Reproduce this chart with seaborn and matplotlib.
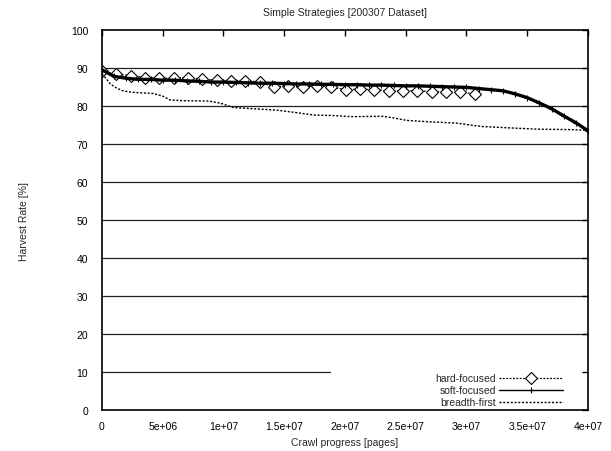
import matplotlib
matplotlib.use("Agg")
import matplotlib.pyplot as plt
import pandas as pd
import seaborn as sns

# crawl progress in pages
hard_x = [0, 1.18e6, 2.36e6, 3.54e6, 4.72e6, 5.9e6, 7.08e6, 8.26e6, 9.44e6, 1.062e7,
          1.18e7, 1.298e7, 1.416e7, 1.534e7, 1.652e7, 1.77e7, 1.888e7, 2.006e7, 2.124e7,
          2.242e7, 2.36e7, 2.478e7, 2.596e7, 2.714e7, 2.832e7, 2.95e7, 3.068e7]
hard_y = [89.2, 88.4, 88.0, 87.5, 87.3, 87.3, 87.5, 87.0, 86.8, 86.7,
          86.7, 86.3, 85.0, 85.3, 85.0, 85.3, 85.0, 84.3, 84.4,
          84.3, 84.0, 84.0, 84.0, 83.8, 83.6, 83.6, 83.2]

soft_x = [i * 1e6 for i in range(41)]
soft_y = [89.5, 87.8, 87.3, 87.0, 87.0, 86.8, 86.8, 86.6, 86.5, 86.3,
          86.3, 86.2, 86.1, 86.0, 86.0, 85.9, 85.8, 85.8, 85.7, 85.7,
          85.6, 85.6, 85.5, 85.5, 85.4, 85.3, 85.3, 85.2, 85.1, 85.0,
          84.9, 84.6, 84.3, 84.0, 83.2, 82.2, 80.8, 79.3, 77.4, 75.6, 73.5]

breadth_x = [0, 3.9e5, 6.9e5, 1.1e6, 1.7e6, 2.5e6, 4.2e6, 5.0e6, 5.6e6, 6.7e6,
             8.8e6, 9.8e6, 1.08e7, 1.29e7, 1.44e7, 1.59e7, 1.75e7, 1.9e7, 2.05e7,
             2.31e7, 2.41e7, 2.51e7, 2.72e7, 2.92e7, 3.03e7, 3.13e7, 3.38e7,
             3.59e7, 3.84e7, 4.0e7]
breadth_y = [88.5, 87.0, 85.8, 84.9, 84.0, 83.6, 83.3, 82.6, 81.6, 81.4,
             81.3, 80.7, 79.6, 79.2, 78.9, 78.3, 77.6, 77.5, 77.2,
             77.3, 76.8, 76.2, 75.8, 75.5, 75.0, 74.6, 74.2,
             73.9, 73.8, 73.6]

x_ticks = [0, 5e6, 1e7, 1.5e7, 2e7, 2.5e7, 3e7, 3.5e7, 4e7]
x_tick_labels = ['0', '5e+06', '1e+07', '1.5e+07', '2e+07', '2.5e+07', '3e+07', '3.5e+07', '4e+07']
y_ticks = list(range(0, 101, 10))

hard = pd.DataFrame({'x': hard_x, 'y': hard_y})
soft = pd.DataFrame({'x': soft_x, 'y': soft_y})
breadth = pd.DataFrame({'x': breadth_x, 'y': breadth_y})

sns.set_theme(style='white')
plt.rcParams['font.family'] = ['Liberation Sans', 'DejaVu Sans']
plt.rcParams['font.size'] = 7.5

fig = plt.figure(figsize=(6.11, 4.52), dpi=100)
ax = fig.add_axes([0.1669, 0.0907, 0.7954, 0.8407])

# horizontal grid, the lowest one is cut by the key box
for y in y_ticks[1:-1]:
    ax.axhline(y, xmax=0.47 if y == 10 else 1, color='#222222', lw=0.9, zorder=0.5)

sns.lineplot(data=hard, x='x', y='y', ax=ax, color='black', lw=0.9,
             linestyle=(0, (1.5, 1.2)), marker='D', markersize=6.5,
             markerfacecolor='white', markeredgecolor='black', markeredgewidth=0.8,
             label='hard-focused')
sns.lineplot(data=soft, x='x', y='y', ax=ax, color='black', lw=2.4,
             marker='+', markersize=5, markeredgecolor='black', markeredgewidth=0.8,
             label='soft-focused')
sns.lineplot(data=breadth, x='x', y='y', ax=ax, color='black', lw=1.0,
             linestyle=(0, (1.5, 1.2)), label='breadth-first')

ax.set_xlim(0, 4e7)
ax.set_ylim(0, 100)
ax.set_xticks(x_ticks)
ax.set_xticklabels(x_tick_labels)
ax.set_yticks(y_ticks)
ax.tick_params(direction='in', length=4, width=1, top=True, right=True,
               labelsize=7.5, colors='black')
ax.tick_params(axis='x', pad=8)
ax.tick_params(axis='y', pad=10)
for s in ax.spines.values():
    s.set_color('black')
    s.set_linewidth(1.2)

ax.set_title('Simple Strategies [200307 Dataset]', fontsize=7.5, pad=11)
ax.set_xlabel('Crawl progress [pages]', fontsize=7.5)
ax.set_ylabel('Harvest Rate [%]', fontsize=7.5)
ax.xaxis.set_label_coords(0.5, -0.07)
ax.yaxis.set_label_coords(-0.15, 0.5)

leg = ax.legend(loc='lower right', bbox_to_anchor=(0.957, -0.004), frameon=False,
                markerfirst=False, handlelength=6.1, handletextpad=0.3,
                labelspacing=0.2, borderaxespad=0.0, fontsize=7.5, numpoints=1)
leg.get_lines()[1].set_linewidth(1.0)

fig.savefig('out.png', dpi=100)
